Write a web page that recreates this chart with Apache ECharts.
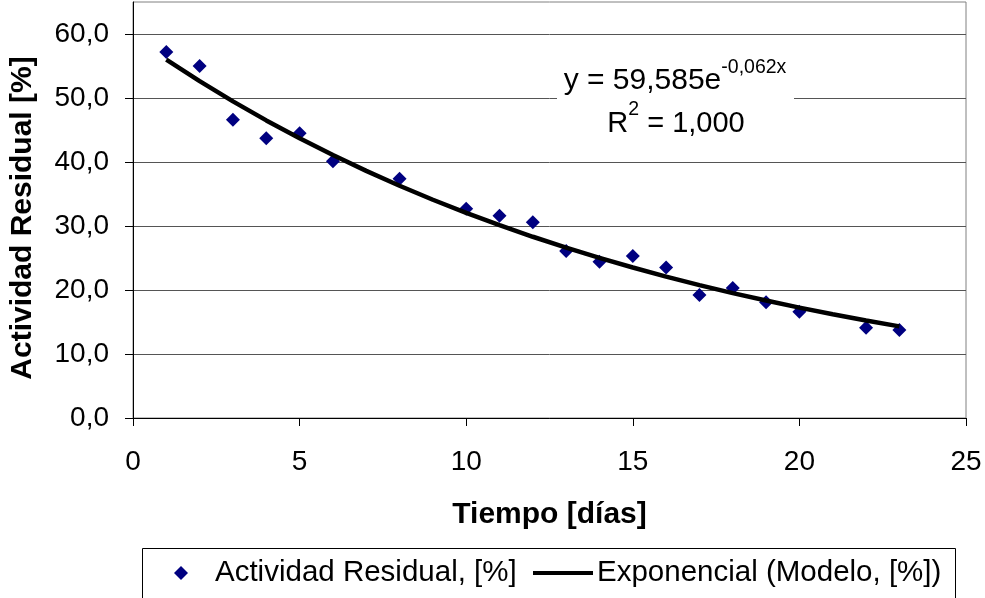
<!DOCTYPE html>
<html>
<head>
<meta charset="utf-8">
<script src="https://cdn.jsdelivr.net/npm/echarts@6/dist/echarts.min.js"></script>
<style>
  html, body { margin: 0; padding: 0; background: #fff; }
  #chart { width: 985px; height: 598px; }
</style>
</head>
<body>
<div id="chart"></div>
<script>
// Residual activity measured on each sampling day
const dias = [1, 2, 3, 4, 5, 6, 8, 10, 11, 12, 13, 14, 15, 16, 17, 18, 19, 20, 22, 23];
const actividad = [57.2, 55.0, 46.6, 43.7, 44.5, 40.1, 37.4, 32.7, 31.6, 30.6,
                   26.1, 24.4, 25.3, 23.5, 19.2, 20.3, 18.1, 16.6, 14.1, 13.75];

// Exponential model curve, one value per day (y = 59,585 e^-0,062x)
const diasModelo = [1, 2, 3, 4, 5, 6, 7, 8, 9, 10, 11, 12, 13, 14, 15, 16, 17, 18, 19, 20, 21, 22, 23];
const modelo = [56.00, 52.64, 49.47, 46.50, 43.70, 41.08, 38.61, 36.29, 34.10, 32.05, 30.13, 28.32,
                26.61, 25.01, 23.51, 22.10, 20.77, 19.52, 18.35, 17.24, 16.21, 15.23, 14.32];

const yTicks = [0, 10, 20, 30, 40, 50, 60];
const xTicks = [0, 5, 10, 15, 20, 25];

const serieDatos = 'Actividad Residual, [%]';
const serieModelo = 'Exponencial (Modelo, [%])';
const ecuacion = 'y = 59,585e';
const exponente = '-0,062x';
const r2Valor = ' = 1,000';

const FONT = "'Liberation Sans', Arial, sans-serif";

const chart = echarts.init(document.getElementById('chart'), null, { renderer: 'canvas' });

const legendText = { fontFamily: FONT, fontSize: 29.5, color: '#000' };

chart.setOption({
  animation: false,
  backgroundColor: '#ffffff',
  textStyle: { fontFamily: FONT, color: '#000' },
  grid: {
    left: 133, right: 19, top: 2, bottom: 180,
    show: true, borderColor: '#808080', borderWidth: 1, backgroundColor: 'transparent'
  },
  xAxis: {
    type: 'value',
    min: 0, max: 25, interval: 5,
    name: 'Tiempo [días]',
    nameLocation: 'middle',
    nameGap: 82,
    nameTextStyle: { fontFamily: FONT, fontSize: 30, fontWeight: 'bold', color: '#000' },
    axisLine: { show: true, onZero: false, lineStyle: { color: '#000', width: 1 } },
    axisTick: { show: true, inside: false, length: 8, lineStyle: { color: '#000' }, customValues: xTicks },
    axisLabel: { fontFamily: FONT, fontSize: 28, color: '#000', margin: 30, customValues: xTicks },
    splitLine: { show: false }
  },
  yAxis: {
    type: 'value',
    min: 0, max: 65, interval: 10,
    name: 'Actividad Residual [%]',
    nameLocation: 'middle',
    nameGap: 95,
    nameTextStyle: { fontFamily: FONT, fontSize: 30, fontWeight: 'bold', color: '#000', padding: [0, 16, 0, 0] },
    axisLine: { show: true, lineStyle: { color: '#000', width: 1 } },
    axisTick: { show: true, inside: false, length: 8, lineStyle: { color: '#000' }, customValues: yTicks },
    axisLabel: {
      fontFamily: FONT, fontSize: 28, color: '#000', margin: 24,
      customValues: yTicks,
      formatter: v => v.toFixed(1).replace('.', ',')
    },
    splitLine: { show: true, lineStyle: { color: '#555', width: 1 } }
  },
  legend: [
    {
      left: 174, top: 558,
      padding: 0,
      itemWidth: 14, itemHeight: 14,
      textStyle: Object.assign({ padding: [0, 0, 0, 22] }, legendText),
      data: [{ name: serieDatos, icon: 'diamond', itemStyle: { color: '#000080', opacity: 1 } }]
    },
    {
      left: 533, top: 558,
      padding: 0,
      itemWidth: 60, itemHeight: 4,
      textStyle: Object.assign({ padding: [0, 0, 0, -1] }, legendText),
      data: [{ name: serieModelo, icon: 'rect', itemStyle: { color: '#000' } }]
    }
  ],
  series: [
    {
      name: serieDatos,
      type: 'scatter',
      symbol: 'diamond',
      symbolSize: 14,
      itemStyle: { color: '#000080', opacity: 1 },
      data: dias.map((d, i) => [d, actividad[i]]),
      z: 3
    },
    {
      name: serieModelo,
      type: 'line',
      showSymbol: false,
      symbol: 'none',
      smooth: false,
      lineStyle: { color: '#000', width: 4.5 },
      itemStyle: { color: '#000' },
      data: diasModelo.map((d, i) => [d, modelo[i]]),
      z: 4
    }
  ],
  graphic: [
    {
      type: 'rect',
      shape: { x: 142.5, y: 548.5, width: 813, height: 70 },
      style: { fill: 'none', stroke: '#000', lineWidth: 1 },
      z: 10
    },
    {
      type: 'rect',
      shape: { x: 557, y: 44, width: 237, height: 108 },
      style: { fill: '#ffffff' },
      z: 10
    },
    {
      type: 'text',
      x: 675, y: 58,
      z: 11,
      style: {
        text: '{m|' + ecuacion + '}{s|' + exponente + '}',
        align: 'center',
        verticalAlign: 'top',
        rich: {
          m: { fontFamily: FONT, fontSize: 30, fill: '#000', lineHeight: 38, verticalAlign: 'bottom' },
          s: { fontFamily: FONT, fontSize: 19.5, fill: '#000', lineHeight: 38, verticalAlign: 'top' }
        }
      }
    },
    {
      type: 'text',
      x: 676, y: 100,
      z: 11,
      style: {
        text: '{m|R}{s|2}{m|' + r2Valor + '}',
        align: 'center',
        verticalAlign: 'top',
        rich: {
          m: { fontFamily: FONT, fontSize: 29, fill: '#000', lineHeight: 38, verticalAlign: 'bottom' },
          s: { fontFamily: FONT, fontSize: 19.5, fill: '#000', lineHeight: 34, verticalAlign: 'top' }
        }
      }
    }
  ]
});
</script>
</body>
</html>
